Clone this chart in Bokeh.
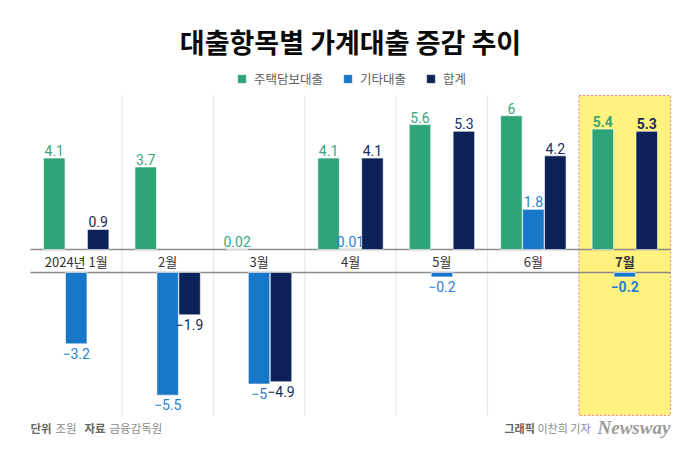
from bokeh.plotting import figure
from bokeh.models import (ColumnDataSource, FactorRange, Range1d, Label, Legend, LegendItem)
from bokeh.transform import dodge
from bokeh.core.properties import value, field
from bokeh.embed import file_html
from bokeh.resources import INLINE

# ---- data ----
categories = ["2024년 1월", "2월", "3월", "4월", "5월", "6월", "7월"]
mortgage = [4.1, 3.7, 0.02, 4.1, 5.6, 6, 5.4]      # 주택담보대출
other = [-3.2, -5.5, -5, 0.01, -0.2, 1.8, -0.2]    # 기타대출
total = [0.9, -1.9, -4.9, 4.1, 5.3, 4.2, 5.3]      # 합계
series_names = ["주택담보대출", "기타대출", "합계"]
highlight = "7월"

# ---- style ----
W, H = 700, 450
PX = 22.3            # pixels per unit
BASE = 249           # baseline (0) from top of canvas, px
GAP = 23 / PX        # category band height in value units
TOP = (BASE - 95) / PX
BOT = -(415 - BASE) / PX
bar_colors = ["#2fa577", "#1877c8", "#0c2157"]
label_colors = ["#3aa57c", "#2a80cf", "#1b2b5e"]
offsets = [-0.24, 0.0, 0.24]
BW = 0.235

p = figure(width=W, height=H, output_backend="svg", toolbar_location=None,
           x_range=FactorRange(*categories, range_padding=30 / (640 / 7), range_padding_units="absolute"),
           y_range=Range1d(-(H - BASE) / PX, BASE / PX),
           x_axis_location=None, y_axis_location=None, min_border=0)
p.grid.visible = False
p.outline_line_color = None
p.background_fill_color = "white"

# separators
sep = ColumnDataSource(dict(x=categories[:-1]))
p.segment(x0=dodge("x", 0.5, range=p.x_range), x1=dodge("x", 0.5, range=p.x_range),
          y0=BOT, y1=TOP, source=sep, line_color="#e4e4e4", line_width=1)

# highlight box
p.rect(x=[highlight], y=[(TOP + BOT) / 2], width=1, height=TOP - BOT,
       fill_color="#fff27f", line_color="#f0828c", line_dash="2 2", line_width=1)

# band lines
band = ColumnDataSource(dict(a=[categories[0], categories[0]], b=[categories[-1], categories[-1]], y=[0, -GAP]))
p.segment(x0=dodge("a", -0.5, range=p.x_range), x1=dodge("b", 0.5, range=p.x_range),
          y0="y", y1="y", source=band, line_color="#8a8a8a", line_width=1.3)

def fmt(v):
    s = f"{abs(v):g}"
    return s if v >= 0 else "\u2212" + s

renderers = []
for vals, name, bc, lc, off in zip([mortgage, other, total], series_names, bar_colors, label_colors, offsets):
    tops = [v if v >= 0 else -GAP for v in vals]
    bots = [0 if v >= 0 else v - GAP for v in vals]
    fs = ["bold" if c == highlight else "normal" for c in categories]
    src = ColumnDataSource(dict(x=categories, top=tops, bottom=bots, v=vals,
                                t=[fmt(v) for v in vals], fs=fs))
    r = p.vbar(x=dodge("x", off, range=p.x_range), top="top", bottom="bottom", width=BW,
               source=src, fill_color=bc, line_color="white", line_width=0.6)
    renderers.append(r)
    pos = ColumnDataSource(dict(x=[c for c, v in zip(categories, vals) if v >= 0],
                                y=[v for v in vals if v >= 0],
                                t=[fmt(v) for v in vals if v >= 0],
                                fs=[f for f, v in zip(fs, vals) if v >= 0]))
    neg = ColumnDataSource(dict(x=[c for c, v in zip(categories, vals) if v < 0],
                                y=[v - GAP for v in vals if v < 0],
                                t=[fmt(v) for v in vals if v < 0],
                                fs=[f for f, v in zip(fs, vals) if v < 0]))
    p.text(x=dodge("x", off, range=p.x_range), y="y", text="t", source=pos,
           text_font=value("Roboto"), text_font_size="14px", text_color=lc,
           text_font_style=field("fs"), text_align="center", text_baseline="bottom", y_offset=-2)
    p.text(x=dodge("x", off, range=p.x_range), y="y", text="t", source=neg,
           text_font=value("Roboto"), text_font_size="14px", text_color=lc,
           text_font_style=field("fs"), text_align="center", text_baseline="top", y_offset=4)

# category labels
cat_src = ColumnDataSource(dict(x=categories, y=[-GAP / 2] * len(categories),
                                fs=["bold" if c == highlight else "normal" for c in categories]))
p.text(x="x", y="y", text="x", source=cat_src, text_font=value("Noto Sans CJK KR"),
       text_font_size="13px", text_color="#333333", text_font_style=field("fs"),
       text_align="center", text_baseline="middle")

# legend
legend = Legend(items=[LegendItem(label=n, renderers=[r]) for n, r in zip(series_names, renderers)],
                orientation="horizontal", location=(236, H - 88), padding=0, margin=0,
                spacing=19, label_standoff=7, glyph_width=11, glyph_height=11,
                label_text_font="Noto Sans CJK KR", label_text_font_size="12.5px",
                label_text_color="#606060", border_line_color=None, background_fill_alpha=0)
p.add_layout(legend, "center")

def lab(text, x, y, size, color, style="normal", font="Noto Sans CJK KR", align="left"):
    p.add_layout(Label(x=x, y=H - y, x_units="screen", y_units="screen", text=text,
                       text_font=font, text_font_size=size, text_color=color,
                       text_font_style=style, text_align=align, text_baseline="middle"))

lab("대출항목별 가계대출 증감 추이", W / 2, 41, "27px", "#0a0a0a", "bold", align="center")
lab("단위", 30, 427, "11.5px", "#666666", "bold")
lab("조원", 55, 427, "11.5px", "#8a8a8a")
lab("자료", 84, 427, "11.5px", "#666666", "bold")
lab("금융감독원", 109, 427, "11.5px", "#8a8a8a")
lab("그래픽", 504, 427, "11px", "#666666", "bold")
lab("이찬희 기자", 537, 427, "11px", "#8a8a8a")
lab("Newsway", 597, 427, "19px", "#9b9b9b", "bold italic", font="Liberation Serif")

open("out.html", "w").write(file_html(p, INLINE))
